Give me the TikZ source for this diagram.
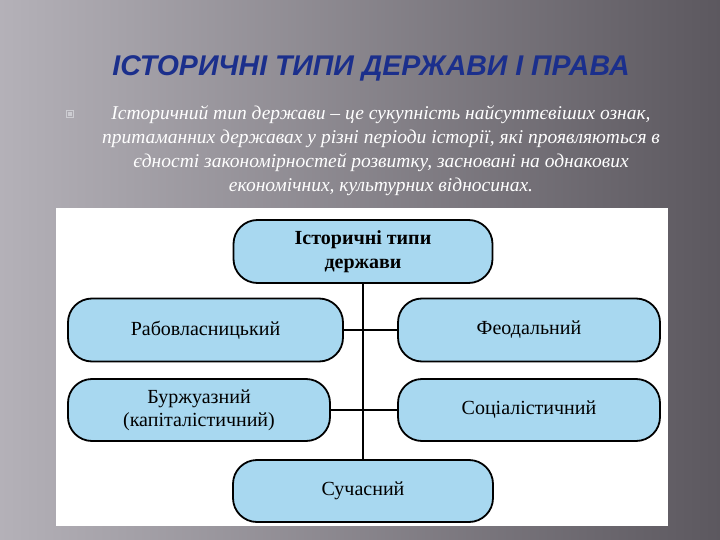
\documentclass[tikz,border=0pt]{standalone}
\usepackage{fontspec}
\setmainfont{Liberation Serif}
\newfontfamily\titlefont{Liberation Sans}
\usetikzlibrary{positioning}

\definecolor{titleblue}{RGB}{27,47,140}
\definecolor{boxblue}{RGB}{168,216,240}
\definecolor{bgleft}{RGB}{180,177,184}
\definecolor{bgright}{RGB}{92,88,95}
\definecolor{bulletgray}{RGB}{205,205,210}

\tikzset{
  typebox/.style={draw=black, line width=1.8pt, fill=boxblue, rounded corners=24pt,
    align=center, inner sep=0pt, font=\fontsize{20}{23}\selectfont},
  link/.style={line width=1.8pt},
}

\begin{document}
\begin{tikzpicture}[x=1pt,y=1pt,yscale=-1]
% background of the slide
\shade [left color=bgleft, right color=bgright] (0,0) rectangle (720,540);
\useasboundingbox (0,0) rectangle (720,540);

% Title
\node (title) at (371,68) [text=titleblue, font=\titlefont\bfseries\itshape\fontsize{28.5}{31}\selectfont] {ІСТОРИЧНІ ТИПИ ДЕРЖАВИ І ПРАВА};

% Bullet and definition
\node (bullet) at (70,114) [draw=bulletgray, line width=0.8pt, minimum size=7pt, inner sep=0pt] {};
\node (bulletdot) at (bullet.center) [fill=bulletgray, minimum size=3.5pt, inner sep=0pt] {};
\node (definition) at (381,151) [text=white, align=center, font=\itshape\fontsize{19.5}{24}\selectfont]
  {Історичний тип держави -- це сукупність найсуттєвіших ознак,\\
   притаманних державах у різні періоди історії, які проявляються в\\
   єдності закономірностей розвитку, засновані на однакових\\
   економічних, культурних відносинах.};

% White panel of the scheme
\fill [white] (56,208) rectangle (668,526);

% Boxes
\node (top) at (363,251.5) [typebox, minimum width=259pt, minimum height=63pt, font=\bfseries\fontsize{20}{24}\selectfont] {Історичні типи\\держави};
\node (slave) at (205.5,330) [typebox, minimum width=275pt, minimum height=63pt] {Рабовласницький};
\node (feudal) at (529,330) [typebox, minimum width=262pt, minimum height=63pt] {Феодальний};
\node (bourg) at (199,410) [typebox, minimum width=262pt, minimum height=62pt] {Буржуазний\\(капіталістичний)};
\node (social) at (529,410) [typebox, minimum width=262pt, minimum height=62pt] {Соціалістичний};
\node (modern) at (363,491) [typebox, minimum width=260pt, minimum height=62pt] {Сучасний};

% Connectors
\draw [link] (top.south) -- (modern.north);
\draw [link] (slave.east) -- (feudal.west);
\draw [link] (bourg.east) -- (social.west);

\end{tikzpicture}
\end{document}
